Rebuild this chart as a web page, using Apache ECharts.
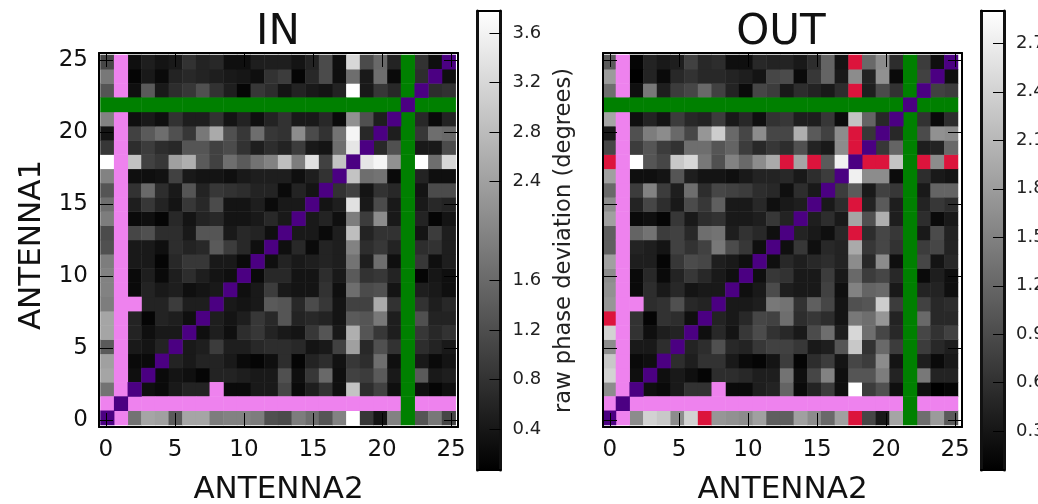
<!DOCTYPE html>
<html><head><meta charset="utf-8">
<style>html,body{margin:0;padding:0;background:#fff}#c{width:1038px;height:504px;filter:blur(0.5px)}</style>
<script src="https://cdn.jsdelivr.net/npm/echarts@6/dist/echarts.min.js"></script>
</head><body><div id="c"></div>
<script>
// raw phase deviation in degrees, lower triangle: row r = ANTENNA1, position c = ANTENNA2 (c < r). The matrix is symmetric.
const inLower = [
[],[],
[1.74,null],
[2.47,null,.29],
[2.40,null,.21,.21],
[1.38,null,.43,.36,.58],
[2.47,null,.58,.29,.43,.43],
[2.47,null,.58,.14,.58,.51,.29],
[1.89,null,null,.58,.58,.94,.51,.51],
[1.96,null,.21,.58,.43,.51,.29,.36,.43],
[1.96,null,.21,.51,.21,.51,.72,.51,.36,.29],
[1.89,null,.43,.43,.14,.65,.87,.87,.43,.43,.21],
[1.23,null,.43,.43,.29,.72,.58,.65,1.38,.94,.65,.29],
[1.16,null,1.09,1.23,.72,.72,.43,1.31,1.31,.43,.65,.58,.29],
[1.89,null,.21,.29,.14,.65,.36,.58,.65,.36,.36,.43,.65,.43],
[1.67,null,.51,.87,.58,.36,.87,.65,1.16,.36,.36,.51,.21,.43,.43],
[1.31,null,.80,1.60,.72,.43,1.31,.58,.87,.80,.72,.58,.58,.21,.58,.36],
[1.96,null,.29,.29,.33,1.02,.43,.36,.36,.29,.43,.51,.51,.51,.29,.51,.80],
[3.78,null,2.91,1.02,.87,2.40,2.62,1.38,1.02,1.67,1.38,1.74,1.96,2.83,1.89,3.34,1.02,2.91],
[.87,null,.72,.94,.72,.65,1.31,1.31,1.02,1.16,.80,.51,.72,.58,.94,.43,.36,1.67,3.42],
[.36,null,1.02,1.38,1.67,1.23,.87,1.82,2.54,1.23,.87,1.67,.87,.80,2.11,1.16,.80,1.74,3.63,.65],
[1.96,null,.29,.43,.29,.80,.51,.51,.80,.36,.58,.29,.58,.80,.43,.43,.65,.21,2.18,1.23,.51],
[],
[1.31,null,.29,1.38,.43,.72,.87,1.23,.80,.51,.14,.87,.72,.36,.58,.43,.36,.58,3.78,.43,.87,.65,null],
[1.82,null,.14,.43,.21,.58,.65,.58,.51,.43,.39,.29,.80,.94,.14,.65,1.16,.29,1.67,.43,1.67,.21,null,.72],
[1.09,null,.29,.51,.36,.43,.80,.58,.65,.29,.29,.51,.51,.51,.36,.58,1.16,.29,3.20,1.16,1.60,.58,null,.80,.29]
];
const outLower = [
[],[],
[1.62,null],
[2.40,null,.23],
[2.29,null,.17,.23],
[1.62,null,.34,.34,.56],
[2.40,null,.62,.23,.39,.45],
[3.10,null,.62,.12,.62,.56,.23],
[1.73,null,null,.56,.62,.95,.51,.45],
[1.68,null,.17,.56,.34,.51,.28,.34,.34],
[1.62,null,.17,.51,.17,.45,.67,.51,.34,.23],
[1.84,null,.39,.39,.12,.67,.90,.84,.39,.34,.23],
[1.12,null,.45,.39,.28,.78,.62,.78,1.40,.90,.67,.23],
[1.12,null,1.17,1.34,.73,.78,.51,1.29,1.34,.39,.62,.51,.23],
[1.84,null,.17,.23,.12,.67,.34,.56,.62,.34,.34,.39,.67,.45],
[1.62,null,.45,.84,.56,.34,.90,.67,1.12,.34,.34,.51,.23,.34,.39],
[1.23,null,.73,1.51,.73,.39,1.29,.56,.84,.78,.73,.56,.51,.23,.56,.34],
[1.84,null,.23,.23,.28,1.01,.39,.28,.28,.23,.34,.45,.45,.51,.34,.56,.73],
[3.60,null,2.90,1.01,.84,2.29,2.46,1.40,.95,1.51,1.23,1.62,1.95,3.05,1.90,3.30,1.06,2.73],
[.84,null,.73,1.01,.73,.62,1.29,1.29,1.01,1.17,.73,.51,.67,.56,.95,.45,.34,1.62,3.20],
[.34,null,.95,1.45,1.62,1.23,.84,1.73,2.34,1.23,.84,1.62,.84,.84,2.01,1.06,.78,1.62,3.40,.67],
[1.90,null,.23,.45,.28,.73,.51,.45,.73,.34,.51,.23,.62,.67,.39,.39,.67,.19,2.23,1.17,.51],
[],
[1.29,null,.23,1.40,.39,.73,.84,1.23,.78,.45,.17,.84,.73,.34,.56,.45,.34,.56,3.60,.39,.90,.62,null],
[1.79,null,.06,.45,.17,.51,.62,.51,.51,.45,.39,.28,.84,.90,.17,.67,1.17,.34,1.62,.45,1.68,.17,null,.78],
[1.06,null,.12,.45,.34,.39,.78,.51,.56,.23,.23,.51,.45,.45,.34,.56,1.17,.28,3.00,1.23,1.62,.56,null,.73,.23]
];
const antennaCount = 26;
const flaggedViolet = [1];
const flaggedGreen = [22];
const flaggedPairs = [[2,8]];
const axisTicks = [0,5,10,15,20,25];
const inRange = [0.067,3.78];
const outRange = [0.06,2.90];
const inBarTicks = [0.4,0.8,1.2,1.6,2.4,2.8,3.2,3.6];
const outBarTicks = [0.3,0.6,0.9,1.2,1.5,1.8,2.1,2.4,2.7];
const titles = ['IN','OUT'];
const xName = 'ANTENNA2', yName = 'ANTENNA1', barName = 'raw phase deviation (degrees)';

const FONT = 'DejaVu Sans';
const cats = Array.from({length:antennaCount},(_,i)=>String(i));

function cells(lower){
  const out=[];
  for(let r=0;r<antennaCount;r++)for(let c=0;c<r;c++){
    const v=lower[r][c];
    if(v===null||v===undefined)continue;
    out.push([c,r,v]);out.push([r,c,v]);
  }
  return out;
}
function flags(){
  const vi=[],gr=[],ind=[];
  for(let r=0;r<antennaCount;r++)for(let c=0;c<antennaCount;c++){
    if(r===c)ind.push([c,r,1]);
    else if(flaggedGreen.includes(r)||flaggedGreen.includes(c))gr.push([c,r,1]);
    else if(flaggedViolet.includes(r)||flaggedViolet.includes(c))vi.push([c,r,1]);
    else if(flaggedPairs.some(p=>(p[0]===r&&p[1]===c)||(p[0]===c&&p[1]===r)))vi.push([c,r,1]);
  }
  return {vi,gr,ind};
}
const F=flags();

const grid=[
 {left:100.5,top:55,width:355.2,height:370,outerBoundsMode:'none'},
 {left:602.3,top:55,width:355.7,height:370,outerBoundsMode:'none'},
 {left:99,top:53,width:359,height:374,outerBoundsMode:'none'},
 {left:603,top:53,width:359,height:374,outerBoundsMode:'none'},
 {left:477.5,top:11,width:23,height:459,outerBoundsMode:'none'},
 {left:981,top:11,width:23,height:459,outerBoundsMode:'none'}
];
const xAxis=[],yAxis=[],series=[];
const line={show:true,onZero:false,lineStyle:{color:'#000',width:2}};
const barLine={show:true,onZero:false,lineStyle:{color:'#111',width:3}};
function hidden(g){return {type:'category',gridIndex:g,data:cats,show:false};}
xAxis.push(hidden(0),hidden(1));yAxis.push(hidden(0),hidden(1));

function frame(g,withY){
  const tickCommon={show:true,inside:true,length:14,customValues:axisTicks,lineStyle:{color:'#000',width:1}};
  const base={type:'value',gridIndex:g,min:-0.5,max:25.5,splitLine:{show:false},axisLine:line,z:10};
  const lab={show:true,customValues:axisTicks,fontFamily:FONT,fontSize:23,color:'#111',showMinLabel:true,showMaxLabel:true};
  xAxis.push({...base,position:'bottom',axisTick:tickCommon,axisLabel:{...lab,margin:12},name:xName,nameLocation:'middle',nameGap:47,nameTextStyle:{fontFamily:FONT,fontSize:31,color:'#111'}});
  xAxis.push({...base,position:'top',axisTick:tickCommon,axisLabel:{show:false}});
  const yl={...base,position:'left',axisTick:tickCommon,axisLabel:withY?{...lab,margin:11,padding:[6,0,0,0]}:{show:false}};
  if(withY)Object.assign(yl,{name:yName,nameLocation:'middle',nameGap:52,nameTextStyle:{fontFamily:FONT,fontSize:31,color:'#111',padding:[0,10,0,0]}});
  yAxis.push(yl);
  yAxis.push({...base,position:'right',axisTick:tickCommon,axisLabel:{show:false}});
}
frame(2,true);frame(3,false);

function bar(g,range,ticks,name){
  const xi=xAxis.length,yi=yAxis.length;
  const cb={type:'category',gridIndex:g,data:['cb'],axisLine:line,axisTick:{show:false},axisLabel:{show:false},z:10};
  xAxis.push({...cb,position:'bottom'},{...cb,position:'top'});
  const yb={type:'value',gridIndex:g,min:range[0],max:range[1],splitLine:{show:false},axisLine:barLine,z:10};
  yAxis.push({...yb,position:'right',
    axisTick:{show:true,inside:true,length:11,customValues:ticks,lineStyle:{color:'#000',width:1}},
    axisLabel:{show:true,customValues:ticks,fontFamily:FONT,fontSize:18,color:'#222',margin:12,padding:[5,0,0,0],formatter:v=>v.toFixed(1)},
    ...(name?{name,nameLocation:'middle',nameGap:52,nameRotate:90,nameTextStyle:{fontFamily:FONT,fontSize:22.6,color:'#222'}}:{})
  });
  yAxis.push({...yb,position:'left',axisTick:{show:false},axisLabel:{show:false}});
  series.push({type:'bar',xAxisIndex:xi,yAxisIndex:yi,data:[range[1]],barWidth:'100%',silent:true,
    itemStyle:{color:{type:'linear',x:0,y:0,x2:0,y2:1,colorStops:[{offset:0,color:'#fff'},{offset:1,color:'#000'}]}}});
}

function heat(i,data){
  series.push({type:'heatmap',xAxisIndex:i,yAxisIndex:i,data,itemStyle:{borderWidth:0},progressive:0});
  const idx=series.length-1;
  [[F.vi,'#EE82EE'],[F.gr,'#008000'],[F.ind,'#4B0082']].forEach(([d,col])=>{
    series.push({type:'heatmap',xAxisIndex:i,yAxisIndex:i,data:d,itemStyle:{color:col},progressive:0});
  });
  return idx;
}
const i0=heat(0,cells(inLower));
const i1=heat(1,cells(outLower));
bar(4,inRange,inBarTicks,barName);
bar(5,outRange,outBarTicks,null);

// values above the colour range draw crimson
const vm=(idx,range)=>({show:false,type:'continuous',seriesIndex:idx,dimension:2,min:range[0],max:range[1]+0.001,range:[range[0],range[1]],
  inRange:{color:['#000','#fff']},outOfRange:{color:'#DC143C'}});

const chart=echarts.init(document.getElementById('c'),null,{renderer:'canvas'});
chart.setOption({
  animation:false,backgroundColor:'#fff',
  title:[
    {text:titles[0],left:273,top:7,textAlign:'center',textStyle:{fontFamily:FONT,fontSize:42,fontWeight:'normal',color:'#111'}},
    {text:titles[1],left:776,top:7,textAlign:'center',textStyle:{fontFamily:FONT,fontSize:42,fontWeight:'normal',color:'#111'}}
  ],
  grid,xAxis,yAxis,series,
  visualMap:[vm(i0,inRange),vm(i1,outRange)]
});
</script></body></html>
